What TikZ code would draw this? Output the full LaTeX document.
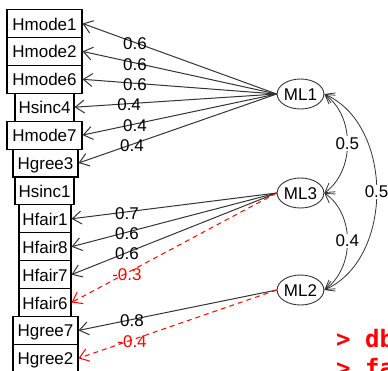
\documentclass[tikz,border=0pt]{standalone}
\usepackage{fontspec}
\setmainfont{Liberation Sans}
\newfontfamily\consolefont{DejaVu Sans Mono}
\usetikzlibrary{arrows.meta,shapes.geometric}
\begin{document}
\begin{tikzpicture}[x=1pt,y=-1pt,
  lbl/.style={font=\fontsize{17}{17}\selectfont},
  var/.style={lbl,draw=black,line width=1.1pt,minimum height=27.9pt,inner sep=0pt,text height=13pt,text depth=0pt},
  wmode/.style={var,minimum width=75pt},
  wsinc/.style={var,minimum width=59pt},
  wgree/.style={var,minimum width=65pt},
  wfair/.style={var,minimum width=52pt},
  fac/.style={lbl,draw=black!80,line width=0.9pt,ellipse,minimum width=38pt,minimum height=30pt,inner sep=0pt,text height=13pt,text depth=0pt},
  load/.style={draw=black!80,line width=1pt,-{Straight Barb[length=9pt,width=13pt]}},
  neg/.style={draw=red,dash pattern=on 5pt off 4pt},
  lab/.style={lbl,pos=0.73,inner sep=0pt,yshift=-1.5pt},
  cor/.style={draw=black!80,line width=0.8pt,{Straight Barb[length=9pt,width=11pt]}-{Straight Barb[length=9pt,width=11pt]}},
  clab/.style={lbl,fill=white,inner sep=1pt,pos=0.5},
  console/.style={anchor=base west,inner sep=0pt,text=red,font=\consolefont\bfseries\fontsize{24}{24}\selectfont}
]
\useasboundingbox (0,0) rectangle (388,370);
\clip (0,0) rectangle (388,370);

% observed variables
\node[wmode] (hm1) at (44.5,23.5) {Hmode1};
\node[wmode] (hm2) at (44.5,51.4) {Hmode2};
\node[wmode] (hm6) at (44.5,79.3) {Hmode6};
\node[wsinc] (hs4) at (44.5,107.2) {Hsinc4};
\node[wmode] (hm7) at (44.5,135.1) {Hmode7};
\node[wgree] (hg3) at (45.5,163.0) {Hgree3};
\node[wsinc] (hs1) at (44.5,190.9) {Hsinc1};
\node[wfair] (hf1) at (45,218.8) {Hfair1};
\node[wfair] (hf8) at (45,246.7) {Hfair8};
\node[wfair] (hf7) at (45,274.6) {Hfair7};
\node[wfair] (hf6) at (45,302.5) {Hfair6};
\node[wgree] (hg7) at (45.5,330.4) {Hgree7};
\node[wgree] (hg2) at (45.5,358.3) {Hgree2};

% factors
\node[fac] (ML1) at (300.5,94) {ML1};
\node[fac] (ML3) at (300.5,193) {ML3};
\node[fac] (ML2) at (300.5,290) {ML2};

% loadings
\draw[load] (ML1.west) -- (hm1.east) node[lab] {0.6};
\draw[load] (ML1.west) -- (hm2.east) node[lab] {0.6};
\draw[load] (ML1.west) -- (hm6.east) node[lab] {0.6};
\draw[load] (ML1.west) -- (hs4.east) node[lab] {0.4};
\draw[load] (ML1.west) -- (hm7.east) node[lab] {0.4};
\draw[load] (ML1.west) -- (hg3.east) node[lab] {0.4};
\draw[load] (ML3.west) -- (hf1.east) node[lab] {0.7};
\draw[load] (ML3.west) -- (hf8.east) node[lab] {0.6};
\draw[load] (ML3.west) -- (hf7.east) node[lab] {0.6};
\draw[load,neg] (ML3.west) -- (hf6.east) node[lab,text=red] {-0.3};
\draw[load] (ML2.west) -- (hg7.east) node[lab] {0.8};
\draw[load,neg] (ML2.west) -- (hg2.east) node[lab,text=red] {-0.4};

% factor correlations
\draw[cor] (ML1.east) .. controls (355,116) and (355,171) .. (ML3.east) node[clab] {0.5};
\draw[cor] (ML3.east) .. controls (355,214) and (355,268) .. (ML2.east) node[clab] {0.4};
\draw[cor] (ML1.east) .. controls (394,125) and (394,259) .. (ML2.east) node[clab] {0.5};

% console text (cut off by the picture's edge, as in the reference)
\node[console] (c1) at (336,347) {> db};
\node[console] (c2) at (336,376) {> fa};
\end{tikzpicture}
\end{document}
